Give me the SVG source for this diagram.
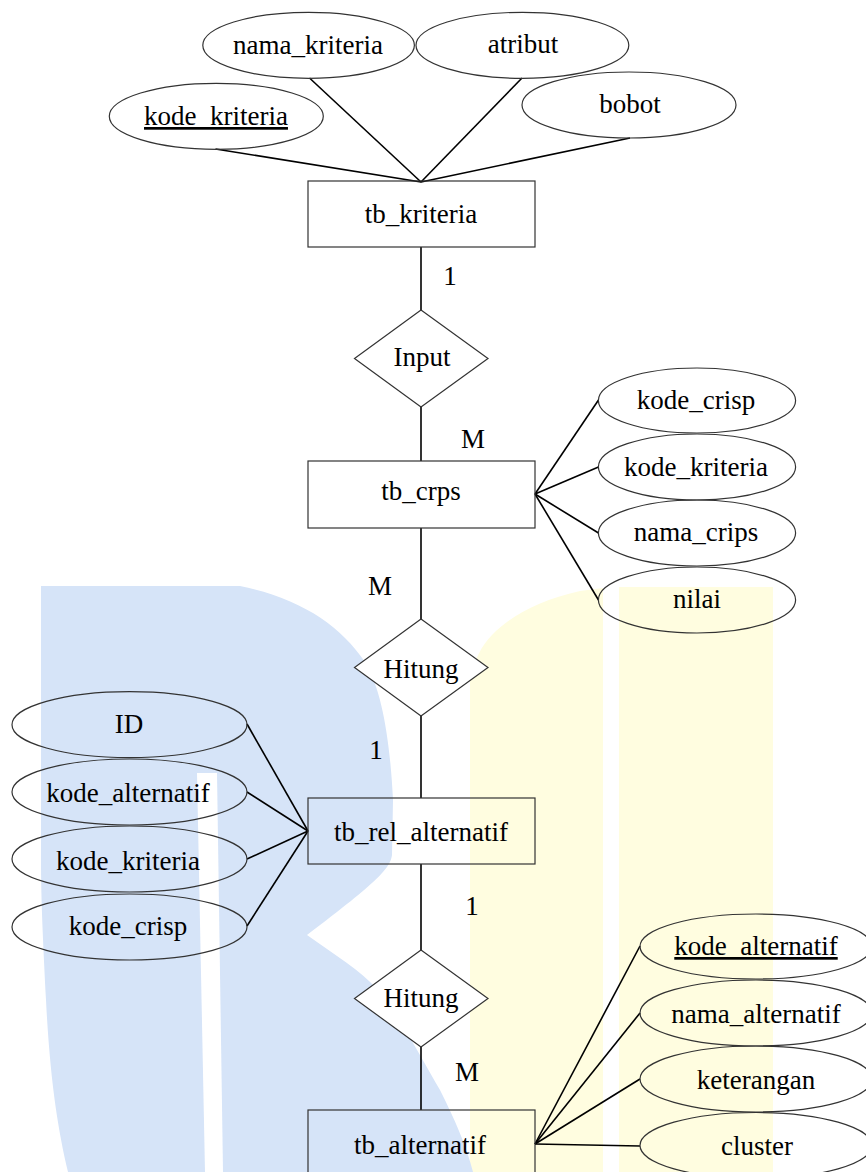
<svg xmlns="http://www.w3.org/2000/svg" width="866" height="1172" viewBox="0 0 866 1172">
<style>
  .ent { fill: none; stroke: #333; stroke-width: 1.2; }
  .rel { fill: #fff; stroke: #333; stroke-width: 1.2; }
  .att { fill: none; stroke: #333; stroke-width: 1.2; }
  .con { stroke: #000; stroke-width: 1.6; fill: none; }
  text { font-family: "Liberation Serif", "Times New Roman", serif; font-size: 27px; fill: #000; stroke: none; text-anchor: middle; }
  .u { text-decoration: underline; }
</style>
<rect x="0" y="0" width="866" height="1172" fill="#fff"/>
<g id="watermark">
  <path d="M470,1172 L470,680 C474,660 482,645 492,635 C510,616 540,600 580,591 L603,588 L603,1172 Z" fill="#fffde0"/>
  <rect x="619" y="587" width="154" height="585" fill="#fffde0"/>
  <path d="M41,586 L240,586 C300,598 340,625 365,662 C382,690 390,740 393,800 L392,855 C390,868 380,880 307,935 C335,955 360,970 378,990 C405,1025 425,1065 440,1090 C455,1120 466,1145 473,1172 L68,1172 C58,1130 50,1080 46,1000 C43,940 41,900 41,860 Z" fill="#d6e4f8"/>
  <path d="M197,773 L217,773 L223,1172 L205,1172 Z" fill="#fff"/>
</g>
<g id="connectors">
  <line class="con" x1="421" y1="247" x2="421" y2="310"/>
  <line class="con" x1="421" y1="407" x2="421" y2="461"/>
  <line class="con" x1="421" y1="528" x2="421" y2="619"/>
  <line class="con" x1="421" y1="716" x2="421" y2="798"/>
  <line class="con" x1="421" y1="864" x2="421" y2="950"/>
  <line class="con" x1="421" y1="1047" x2="421" y2="1110"/>
  <line class="con" x1="421" y1="182" x2="215.5" y2="149"/>
  <line class="con" x1="421" y1="182" x2="309.5" y2="78"/>
  <line class="con" x1="421" y1="182" x2="522" y2="78"/>
  <line class="con" x1="421" y1="182" x2="630" y2="138"/>
  <line class="con" x1="535" y1="494" x2="598.5" y2="400"/>
  <line class="con" x1="535" y1="494" x2="598.5" y2="467"/>
  <line class="con" x1="535" y1="494" x2="598.5" y2="533"/>
  <line class="con" x1="535" y1="494" x2="598.5" y2="600"/>
  <line class="con" x1="308" y1="831" x2="247" y2="724"/>
  <line class="con" x1="308" y1="831" x2="247" y2="792"/>
  <line class="con" x1="308" y1="831" x2="247" y2="859"/>
  <line class="con" x1="308" y1="831" x2="247" y2="926"/>
  <line class="con" x1="535" y1="1144" x2="640" y2="946"/>
  <line class="con" x1="535" y1="1144" x2="640" y2="1013"/>
  <line class="con" x1="535" y1="1144" x2="640" y2="1079"/>
  <line class="con" x1="535" y1="1144" x2="640" y2="1146"/>
  <text x="450" y="285">1</text>
  <text x="473" y="448">M</text>
  <text x="380" y="595">M</text>
  <text x="376" y="759">1</text>
  <text x="472" y="915">1</text>
  <text x="467" y="1081">M</text>
</g>
<g id="tb_kriteria">
  <rect class="ent" x="308" y="181" width="227" height="66"/>
  <text x="421" y="223">tb_kriteria</text>
</g>
<g id="attr_nama_kriteria">
  <ellipse class="att" cx="308.6" cy="45.3" rx="105.8" ry="33"/>
  <text x="308" y="54">nama_kriteria</text>
</g>
<g id="attr_atribut">
  <ellipse class="att" cx="522.4" cy="45.3" rx="106.4" ry="33"/>
  <text x="523" y="53">atribut</text>
</g>
<g id="attr_kode_kriteria_pk">
  <ellipse class="att" cx="216.3" cy="116.3" rx="107" ry="33"/>
  <text class="u" x="216" y="125">kode_kriteria</text>
</g>
<g id="attr_bobot">
  <ellipse class="att" cx="629" cy="105" rx="107" ry="33"/>
  <text x="630" y="113">bobot</text>
</g>
<g id="rel_input">
  <polygon class="rel" points="421,310 488,358.5 421,407 354.5,358.5"/>
  <text x="422" y="366">Input</text>
</g>
<g id="tb_crps">
  <rect class="ent" x="308" y="461" width="227" height="67"/>
  <text x="421" y="500">tb_crps</text>
</g>
<g id="attr_kode_crisp">
  <ellipse class="att" cx="697" cy="400.5" rx="98.6" ry="32.5"/>
  <text x="696" y="409">kode_crisp</text>
</g>
<g id="attr_kode_kriteria_crps">
  <ellipse class="att" cx="697" cy="467" rx="98.6" ry="33"/>
  <text x="696" y="476">kode_kriteria</text>
</g>
<g id="attr_nama_crips">
  <ellipse class="att" cx="697" cy="533" rx="98.6" ry="33"/>
  <text x="696" y="541">nama_crips</text>
</g>
<g id="attr_nilai">
  <ellipse class="att" cx="697" cy="600" rx="98.6" ry="33"/>
  <text x="697" y="608">nilai</text>
</g>
<g id="rel_hitung1">
  <polygon class="rel" points="421,619 488,667.5 421,716 354.5,667.5"/>
  <text x="421" y="678">Hitung</text>
</g>
<g id="tb_rel_alternatif">
  <rect class="ent" x="308" y="798" width="227" height="66"/>
  <text x="421" y="841">tb_rel_alternatif</text>
</g>
<g id="attr_id">
  <ellipse class="att" cx="129.5" cy="724.7" rx="117.5" ry="33"/>
  <text x="129" y="733">ID</text>
</g>
<g id="attr_kode_alternatif_rel">
  <ellipse class="att" cx="129.5" cy="792" rx="117.5" ry="33"/>
  <text x="128" y="802">kode_alternatif</text>
</g>
<g id="attr_kode_kriteria_rel">
  <ellipse class="att" cx="129.5" cy="859" rx="117.5" ry="33"/>
  <text x="128" y="870">kode_kriteria</text>
</g>
<g id="attr_kode_crisp_rel">
  <ellipse class="att" cx="129.5" cy="927" rx="117.5" ry="33"/>
  <text x="128" y="935">kode_crisp</text>
</g>
<g id="rel_hitung2">
  <polygon class="rel" points="421,950 488,998.5 421,1047 354.5,998.5"/>
  <text x="421" y="1007">Hitung</text>
</g>
<g id="tb_alternatif">
  <rect class="ent" x="308" y="1110" width="227" height="67"/>
  <text x="420" y="1154">tb_alternatif</text>
</g>
<g id="attr_kode_alternatif_pk">
  <ellipse class="att" cx="756" cy="946.5" rx="116" ry="32.5"/>
  <text class="u" x="756" y="955">kode_alternatif</text>
</g>
<g id="attr_nama_alternatif">
  <ellipse class="att" cx="756" cy="1013" rx="116" ry="33"/>
  <text x="756" y="1023">nama_alternatif</text>
</g>
<g id="attr_keterangan">
  <ellipse class="att" cx="756" cy="1079" rx="116" ry="33"/>
  <text x="756" y="1089">keterangan</text>
</g>
<g id="attr_cluster">
  <ellipse class="att" cx="756" cy="1145.5" rx="116" ry="33"/>
  <text x="757" y="1155">cluster</text>
</g>
</svg>
